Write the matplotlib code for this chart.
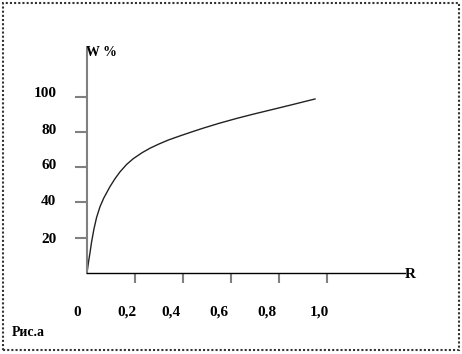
import matplotlib
matplotlib.use("Agg")
import matplotlib.pyplot as plt
from matplotlib.patches import Rectangle
from matplotlib.transforms import ScaledTranslation

# данные кривой W(R)
r_values = [0, 0.0055, 0.0125, 0.019, 0.029, 0.040, 0.054, 0.07, 0.096, 0.117, 0.1375,
            0.165, 0.193, 0.23, 0.2625, 0.3, 0.34, 0.39, 0.44, 0.485, 0.55, 0.624,
            0.69, 0.7625, 0.85, 0.95]
w_values = [0, 5.5, 11.5, 17.5, 25, 31.5, 37.5, 42.5, 49, 53.5, 57.3,
            61.5, 64.8, 68.2, 70.7, 73.1, 75.4, 77.8, 80.1, 82.1, 84.8, 87.6,
            89.9, 92.3, 95.2, 98.6]

x_ticks = [0, 0.2, 0.4, 0.6, 0.8, 1.0]
x_labels = ["0", "0,2", "0,4", "0,6", "0,8", "1,0"]
y_ticks = [20, 40, 60, 80, 100]
y_labels = ["20", "40", "60", "80", "100"]

plt.rcParams['font.family'] = ['Liberation Serif', 'DejaVu Serif']
plt.rcParams['font.weight'] = 'bold'

W, H = 462, 354
fig = plt.figure(figsize=(W / 100, H / 100), dpi=100)

# оси: начало координат в (87, 273) px
x0, y0, x1, y1 = 87, 273, 405, 48
ax = fig.add_axes([x0 / W, (H - y0) / H, (x1 - x0) / W, (y0 - y1) / H])
ax.set_xlim(0, (x1 - x0) / 240)
ax.set_ylim(0, (y0 - y1) / 1.765)
ax.patch.set_visible(False)

ax.plot(r_values, w_values, color='#222222', linewidth=1.0)

for side in ('top', 'right'):
    ax.spines[side].set_visible(False)
ax.spines['left'].set_color('#808080')
ax.spines['left'].set_linewidth(1.5)
ax.spines['bottom'].set_color('black')
ax.spines['bottom'].set_linewidth(1.0)

ax.set_xticks(x_ticks)
ax.set_xticklabels(x_labels, fontsize=11, fontweight='bold')
ax.set_yticks(y_ticks)
ax.set_yticklabels(y_labels, fontsize=11, fontweight='bold')
ax.tick_params(axis='x', direction='out', length=7.5, width=1.5, color='#808080', pad=16)
ax.tick_params(axis='y', direction='out', length=9, width=1.5, color='#808080', pad=13)
ax.xaxis.get_major_ticks()[0].tick1line.set_visible(False)

# подписи сдвинуты как на исходном рисунке
x_shift = [-10, -8, -12, -12, -12, -8]
for lbl, dx in zip(ax.get_xticklabels(), x_shift):
    lbl.set_transform(lbl.get_transform() + ScaledTranslation(dx / 100, 0, fig.dpi_scale_trans))
y_shift = [0, 2, 3, 3, 5]
for lbl, dy in zip(ax.get_yticklabels(), y_shift):
    lbl.set_transform(lbl.get_transform() + ScaledTranslation(0, dy / 100, fig.dpi_scale_trans))

fig.text(86 / W, 1 - 53 / H, "W %", fontsize=10, fontweight='bold', ha='left', va='center')
fig.text(405 / W, 1 - 275 / H, "R", fontsize=11, fontweight='bold', ha='left', va='center')
fig.text(12 / W, 1 - 332 / H, "Рис.а", fontsize=10, fontweight='bold', ha='left', va='center')

# пунктирная рамка
fig.patches.append(Rectangle((3 / W, 4 / H), 456 / W, 347 / H, transform=fig.transFigure,
                             fill=False, edgecolor='#333333', linewidth=1.5,
                             linestyle=(0, (1, 1))))

fig.savefig("out.png", dpi=100)
